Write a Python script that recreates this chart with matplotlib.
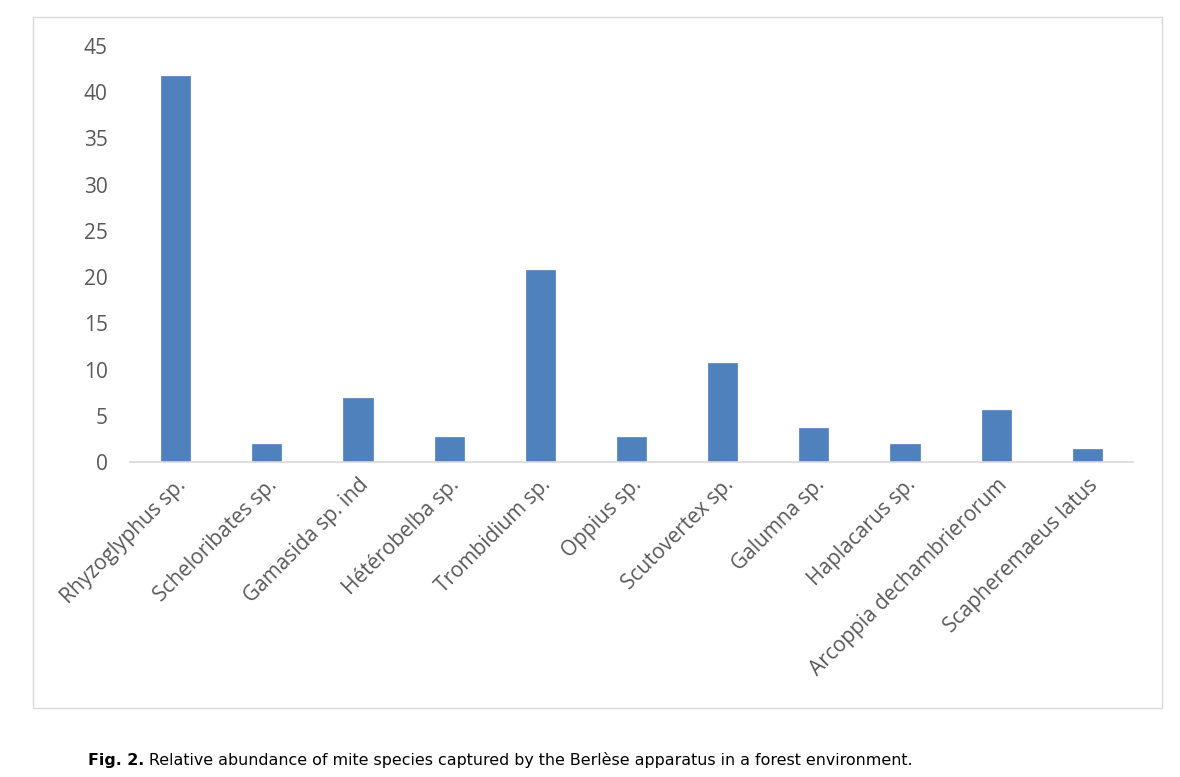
import matplotlib
matplotlib.use("Agg")
import matplotlib.pyplot as plt
from matplotlib.patches import Rectangle

species = ["Rhyzoglyphus sp.", "Scheloribates sp.", "Gamasida sp. ind", "Hétérobelba sp.",
           "Trombidium sp.", "Oppius sp.", "Scutovertex sp.", "Galumna sp.",
           "Haplacarus sp.", "Arcoppia dechambrierorum", "Scapheremaeus latus"]
abundance = [41.8, 1.9, 6.9, 2.7, 20.8, 2.7, 10.7, 3.7, 1.9, 5.6, 1.4]
yticks = [0, 5, 10, 15, 20, 25, 30, 35, 40, 45]

W, H = 1180, 777
fig = plt.figure(figsize=(W / 100, H / 100), dpi=100)
fig.patch.set_facecolor("white")

# chart frame
fig.patches.append(Rectangle((33 / W, 1 - 708 / H), (1162 - 33) / W, (708 - 17) / H,
                             transform=fig.transFigure, fill=False,
                             edgecolor="#d9d9d9", linewidth=1.0))

ax = fig.add_axes([130 / W, 1 - 462 / H, (1133 - 130) / W, (462 - 46) / H])
x = list(range(len(species)))
ax.bar(x, abundance, width=0.32, color="#4f81bd", edgecolor="#4f81bd", linewidth=0.5)
ax.set_xlim(-0.5, len(species) - 0.5)
ax.set_ylim(0, 45)
ax.set_yticks(yticks)
ax.set_yticklabels([str(v) for v in yticks])
ax.set_xticks(x)
ax.set_xticklabels(species, rotation=45, ha="right", rotation_mode="anchor")
for s in ["top", "right", "left"]:
    ax.spines[s].set_visible(False)
ax.spines["bottom"].set_color("#d9d9d9")
ax.spines["bottom"].set_linewidth(1.2)
ax.tick_params(axis="both", length=0, colors="#595959", labelsize=15)
ax.tick_params(axis="y", pad=16)
ax.tick_params(axis="x", pad=9)
for lab in ax.get_xticklabels() + ax.get_yticklabels():
    lab.set_fontfamily("Open Sans")
    lab.set_color("#595959")

t1 = fig.text(88 / W, 1 - 765 / H, "Fig. 2.", fontsize=11.4, fontweight="bold",
              family="DejaVu Sans", color="black", va="baseline")
ax.annotate(" Relative abundance of mite species captured by the Berlèse apparatus in a forest environment.",
            xy=(1, 0), xycoords=t1, fontsize=11.4, family="DejaVu Sans", color="black",
            va="bottom", ha="left", annotation_clip=False)

fig.savefig("out.png", dpi=100)
